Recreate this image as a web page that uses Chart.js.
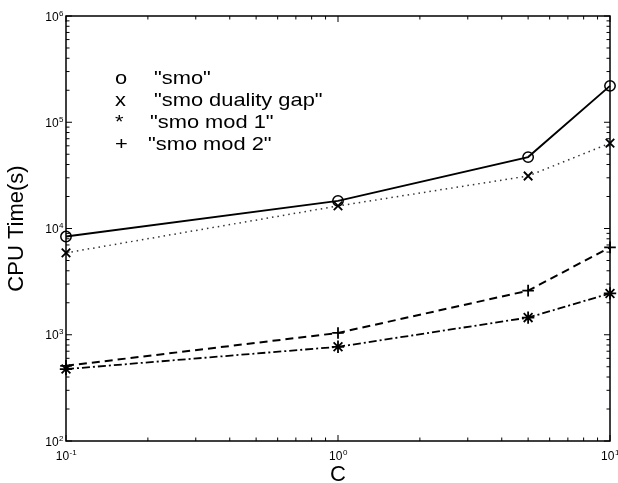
<!DOCTYPE html>
<html>
<head>
<meta charset="utf-8">
<script src="https://cdn.jsdelivr.net/npm/chart.js@4.4.1/dist/chart.umd.min.js"></script>
<style>
  html, body { margin: 0; padding: 0; background: #fff; }
  #wrap { width: 618px; height: 483px; }
</style>
</head>
<body>
<div id="wrap"><canvas id="chart"></canvas></div>
<script>
// C values (x axis) and CPU time in seconds for each method
const cValues = [0.1, 1, 5, 10];
const smo = [8400, 18200, 47000, 220000];
const smoDualityGap = [5900, 16300, 31200, 63500];
const smoMod1 = [475, 770, 1450, 2450];
const smoMod2 = [510, 1040, 2600, 6650];

const seriesLabels = ['"smo"', '"smo duality gap"', '"smo mod 1"', '"smo mod 2"'];
const legendSymbols = ['o', 'x', '*', '+'];

// decade exponents used for the tick labels
const xExponents = [-1, 0, 1];
const yExponents = [2, 3, 4, 5, 6];

const FONT = '"Liberation Sans", Arial, Helvetica, sans-serif';

const toPoints = (vals) => vals.map((v, i) => ({ x: cValues[i], y: v }));

// draws "10" with a small raised exponent
function drawPow(ctx, x, y, exp, align) {
    const base = '10';
    const sup = String(exp);
    ctx.font = '12px ' + FONT;
    const wb = ctx.measureText(base).width;
    ctx.font = '8px ' + FONT;
    const ws = ctx.measureText(sup).width;
    const left = align === 'right' ? x - wb - ws : x - (wb + ws) / 2;
    ctx.textAlign = 'left';
    ctx.textBaseline = 'alphabetic';
    ctx.font = '12px ' + FONT;
    ctx.fillText(base, left, y);
    ctx.font = '8px ' + FONT;
    ctx.fillText(sup, left + wb + 0.5, y - 5);
}

// box, inside ticks (major + minor) on all four sides
const framePlugin = {
    id: 'frame',
    beforeDatasetsDraw(chart) {
        const { ctx, chartArea: a, scales } = chart;
        ctx.save();
        ctx.strokeStyle = '#000';
        ctx.lineWidth = 1.5;
        ctx.strokeRect(a.left, a.top, a.right - a.left, a.bottom - a.top);

        ctx.lineWidth = 1;
        ctx.beginPath();
        // x ticks
        for (let e = -1; e <= 1; e++) {
            for (let m = 1; m <= 9; m++) {
                const v = m * Math.pow(10, e);
                if (v < 0.1 || v > 10) continue;
                const px = scales.x.getPixelForValue(v);
                const len = m === 1 ? 6 : 3.5;
                ctx.moveTo(px, a.bottom); ctx.lineTo(px, a.bottom - len);
                ctx.moveTo(px, a.top); ctx.lineTo(px, a.top + len);
            }
        }
        // y ticks
        for (let e = 2; e <= 6; e++) {
            for (let m = 1; m <= 9; m++) {
                const v = m * Math.pow(10, e);
                if (v < 100 || v > 1e6) continue;
                const py = scales.y.getPixelForValue(v);
                const len = m === 1 ? 6 : 3.5;
                ctx.moveTo(a.left, py); ctx.lineTo(a.left + len, py);
                ctx.moveTo(a.right, py); ctx.lineTo(a.right - len, py);
            }
        }
        ctx.stroke();
        ctx.restore();
    },
    afterDraw(chart) {
        const { ctx, chartArea: a, scales } = chart;
        ctx.save();
        ctx.fillStyle = '#000';
        xExponents.forEach((e) => {
            drawPow(ctx, scales.x.getPixelForValue(Math.pow(10, e)), a.bottom + 19, e, 'center');
        });
        yExponents.forEach((e) => {
            drawPow(ctx, a.left - 3, scales.y.getPixelForValue(Math.pow(10, e)) + 4.5, e, 'right');
        });

        // legend as text, matlab style
        const textX = [154, 154, 150, 148];
        ctx.font = '19px ' + FONT;
        ctx.textAlign = 'left';
        ctx.textBaseline = 'alphabetic';
        seriesLabels.forEach((label, i) => {
            const by = 84 + 22 * i;
            ctx.save();
            ctx.translate(115, by);
            ctx.scale(1.15, 1);
            ctx.fillText(legendSymbols[i], 0, 0);
            ctx.restore();
            ctx.save();
            ctx.translate(textX[i], by);
            ctx.scale(1.15, 1);
            ctx.fillText(label, 0, 0);
            ctx.restore();
        });
        ctx.restore();
    }
};

const ctx = document.getElementById('chart').getContext('2d');

new Chart(ctx, {
    type: 'line',
    data: {
        datasets: [
            {
                label: seriesLabels[0],
                data: toPoints(smo),
                borderColor: '#000',
                borderWidth: 1.9,
                pointStyle: 'circle',
                pointRadius: 5.2,
                pointBorderWidth: 1.5,
                pointBorderColor: '#000',
                pointBackgroundColor: 'rgba(0,0,0,0)',
                clip: false,
            },
            {
                label: seriesLabels[1],
                data: toPoints(smoDualityGap),
                borderColor: '#333',
                borderWidth: 1.5,
                borderDash: [1.5, 4],
                pointStyle: 'crossRot',
                pointRadius: 6,
                pointBorderWidth: 1.8,
                pointBorderColor: '#000',
                clip: false,
            },
            {
                label: seriesLabels[2],
                data: toPoints(smoMod1),
                borderColor: '#000',
                borderWidth: 1.8,
                borderDash: [8, 3, 2, 3],
                pointStyle: 'star',
                pointRadius: 6.2,
                pointBorderWidth: 1.8,
                pointBorderColor: '#000',
                clip: false,
            },
            {
                label: seriesLabels[3],
                data: toPoints(smoMod2),
                borderColor: '#000',
                borderWidth: 2,
                borderDash: [8, 5],
                pointStyle: 'cross',
                pointRadius: 5.8,
                pointBorderWidth: 1.8,
                pointBorderColor: '#000',
                clip: false,
            },
        ],
    },
    options: {
        responsive: true,
        maintainAspectRatio: false,
        animation: false,
        layout: { padding: { left: 0, right: 7, top: 16, bottom: 0 } },
        plugins: {
            legend: { display: false },
            tooltip: { enabled: false },
        },
        scales: {
            x: {
                type: 'logarithmic',
                min: 0.1,
                max: 10,
                grid: { display: false },
                border: { display: false },
                ticks: { display: false },
                title: {
                    display: true,
                    text: 'C',
                    color: '#000',
                    font: { family: FONT, size: 22, lineHeight: 1 },
                    padding: { top: 0, bottom: -3 },
                },
                afterFit(scale) { scale.height = 42; },
            },
            y: {
                type: 'logarithmic',
                min: 100,
                max: 1e6,
                grid: { display: false },
                border: { display: false },
                ticks: { display: false },
                title: {
                    display: true,
                    text: 'CPU Time(s)',
                    color: '#000',
                    font: { family: FONT, size: 22, lineHeight: 1.2 },
                    padding: { top: 4, bottom: 0 },
                },
                afterFit(scale) { scale.width = 66; },
            },
        },
    },
    plugins: [framePlugin],
});
</script>
</body>
</html>
